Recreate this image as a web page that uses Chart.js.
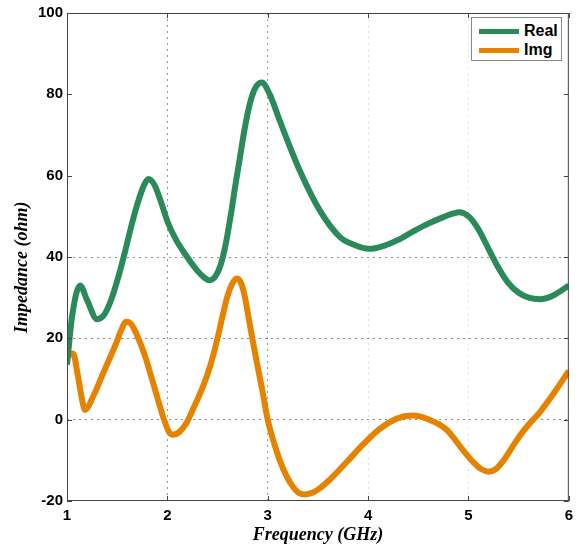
<!DOCTYPE html>
<html>
<head>
<meta charset="utf-8">
<script src="https://cdn.jsdelivr.net/npm/chart.js@4.4.1/dist/chart.umd.min.js"></script>
<style>
  html, body { margin: 0; padding: 0; background: #fff; }
  #wrap { position: relative; width: 579px; height: 548px; }
  #legend {
    position: absolute; left: 471px; top: 17px; width: 91px; height: 44px;
    border: 1px solid #888; background: #fff; box-sizing: border-box;
    font: bold 16px "Liberation Sans", Arial, sans-serif; color: #000;
  }
  .row { position: absolute; left: 0; height: 18px; display: flex; align-items: center; }
  .swatch { display: inline-block; width: 40px; height: 5px; margin-left: 7px; margin-right: 5px; }
</style>
</head>
<body>
<div id="wrap">
  <canvas id="chartCanvas" width="579" height="548"></canvas>
  <div id="legend"></div>
</div>
<script>
// Frecuencias (GHz) y valores
const freqReal = [1.00, 1.05, 1.13, 1.20, 1.30, 1.37, 1.44, 1.51, 1.58, 1.65, 1.72, 1.77, 1.81,
  1.87, 1.93, 2.00, 2.08, 2.18, 2.29, 2.37, 2.42, 2.48, 2.53, 2.58, 2.63, 2.68, 2.72, 2.77,
  2.82, 2.87, 2.94, 3.02, 3.12, 3.32, 3.52, 3.72, 3.86, 4.01, 4.15, 4.30, 4.45, 4.60, 4.75,
  4.85, 4.91, 5.00, 5.10, 5.20, 5.30, 5.40, 5.50, 5.60, 5.71, 5.85, 6.00];
const realOhm = [13.5, 25.3, 33, 29.4, 24.7, 25.8, 29.5, 35, 41.5, 48.5, 54.5, 57.8, 59.2,
  57.8, 54, 48.8, 44.5, 40.6, 36.9, 34.9, 34.3, 35.3, 38, 43, 50, 58, 64, 71.5,
  77.5, 81.3, 82.9, 80, 73.5, 61.2, 51.4, 44.9, 43, 42, 42.7, 44.2, 46.3, 48.2, 49.8,
  50.7, 51, 50, 46.8, 42, 37.3, 33.5, 31.2, 30, 29.6, 30.6, 33];

const freqImg = [1.00, 1.06, 1.11, 1.15, 1.18, 1.26, 1.36, 1.49, 1.54, 1.59, 1.64, 1.69, 1.74,
  1.79, 1.84, 1.90, 1.96, 2.02, 2.06, 2.12, 2.19, 2.26, 2.36, 2.43, 2.49, 2.55, 2.60, 2.65,
  2.69, 2.73, 2.77, 2.81, 2.85, 2.90, 2.94, 3.00, 3.06, 3.12, 3.19, 3.26, 3.31, 3.37, 3.44,
  3.50, 3.62, 3.78, 3.95, 4.11, 4.28, 4.44, 4.61, 4.78, 4.94, 5.05, 5.13, 5.20, 5.27, 5.35,
  5.43, 5.51, 5.60, 5.70, 5.85, 6.00];
const imgOhm = [15.5, 16.3, 10.6, 4.9, 2.4, 5.7, 11.4, 18.8, 22, 24.1, 23.5, 21.2, 18.2,
  14.7, 10.5, 5.5, 0.5, -3.2, -3.7, -3.0, -0.8, 2.8, 8.5, 13.5, 19, 25.5, 30.5, 33.6,
  34.7, 33.8, 30.5, 25, 19.5, 13, 8, 0, -5.5, -10, -14, -16.8, -18, -18.4, -18,
  -17.2, -14.7, -10.6, -6.1, -2.4, 0.2, 1.0, 0, -2.4, -7.3, -10.5, -12.2, -12.8, -12.2, -10,
  -7, -4, -1.2, 1.5, 6.5, 12];

const xTicks = [1, 2, 3, 4, 5, 6];
const yTicks = [-20, 0, 20, 40, 60, 80, 100];
const seriesLabels = ["Real", "Img"];
const xTitle = "Frequency (GHz)";
const yTitle = "Impedance (ohm)";

const colorReal = "#2b8a5a";
const colorImg = "#e58300";

const tickFont = { family: '"Liberation Sans", Arial, sans-serif', size: 15, weight: "bold" };
const titleFont = { family: '"Liberation Serif", "Times New Roman", serif', size: 18, weight: "bold", style: "italic" };

function toPoints(xs, ys) {
  return xs.map((x, i) => ({ x: x, y: ys[i] }));
}

// Marco, marcas hacia dentro y título del eje Y
const framePlugin = {
  id: "frame",
  afterDraw(chart) {
    const { ctx, chartArea: a, scales } = chart;
    ctx.save();
    ctx.strokeStyle = "#444";
    ctx.lineWidth = 1;
    ctx.strokeRect(a.left + 0.5, a.top + 0.5, a.right - a.left - 1, a.bottom - a.top - 1);
    ctx.beginPath();
    for (const v of xTicks) {
      const px = Math.round(scales.x.getPixelForValue(v)) + 0.5;
      ctx.moveTo(px, a.bottom); ctx.lineTo(px, a.bottom - 5);
      ctx.moveTo(px, a.top); ctx.lineTo(px, a.top + 5);
    }
    for (const v of yTicks) {
      const py = Math.round(scales.y.getPixelForValue(v)) + 0.5;
      ctx.moveTo(a.left, py); ctx.lineTo(a.left + 5, py);
      ctx.moveTo(a.right, py); ctx.lineTo(a.right - 5, py);
    }
    ctx.stroke();

    // el título en la referencia está algo más abajo que el centro
    ctx.translate(22, scales.y.getPixelForValue(37.5));
    ctx.rotate(-Math.PI / 2);
    ctx.font = "italic bold 18px 'Liberation Serif', 'Times New Roman', serif";
    ctx.fillStyle = "#000";
    ctx.textAlign = "center";
    ctx.textBaseline = "middle";
    ctx.fillText(yTitle, 0, 0);
    ctx.restore();
  }
};

function buildLegend(chart) {
  const legend = document.getElementById("legend");
  chart.data.datasets.forEach((ds, i) => {
    const row = document.createElement("div");
    row.className = "row";
    row.style.top = (4 + i * 19) + "px";
    const sw = document.createElement("span");
    sw.className = "swatch";
    sw.style.background = ds.borderColor;
    const txt = document.createElement("span");
    txt.textContent = ds.label;
    row.appendChild(sw);
    row.appendChild(txt);
    legend.appendChild(row);
  });
}

const chart = new Chart(document.getElementById("chartCanvas"), {
  type: "line",
  data: {
    datasets: [{
      label: seriesLabels[0],
      data: toPoints(freqReal, realOhm),
      borderColor: colorReal,
      borderWidth: 6,
      pointRadius: 0,
      cubicInterpolationMode: "monotone",
      fill: false
    }, {
      label: seriesLabels[1],
      data: toPoints(freqImg, imgOhm),
      borderColor: colorImg,
      borderWidth: 6,
      pointRadius: 0,
      cubicInterpolationMode: "monotone",
      fill: false
    }]
  },
  options: {
    responsive: false,
    animation: false,
    layout: { padding: { top: 11, right: 10, left: 0, bottom: 0 } },
    plugins: { legend: { display: false }, tooltip: { enabled: false } },
    scales: {
      x: {
        type: "linear",
        min: 1, max: 6,
        afterBuildTicks: (s) => { s.ticks = xTicks.map(v => ({ value: v })); },
        afterFit: (s) => { s.height = 47; },
        ticks: { font: tickFont, color: "#000", padding: 6 },
        grid: {
          drawTicks: false,
          color: (c) => (c.tick && (c.tick.value === 2 || c.tick.value === 3)) ? "#999" : "#e2e2e2"
        },
        border: { display: false, dash: [2, 4] },
        title: { display: true, text: xTitle, font: titleFont, color: "#000", padding: 2 }
      },
      y: {
        min: -20, max: 100,
        afterBuildTicks: (s) => { s.ticks = yTicks.map(v => ({ value: v })); },
        afterFit: (s) => { s.width = 67; },
        ticks: { font: tickFont, color: "#000", padding: 4 },
        grid: {
          drawTicks: false,
          color: (c) => (c.tick && c.tick.value >= 0 && c.tick.value <= 40) ? "#888" : "rgba(0,0,0,0)"
        },
        border: { display: false, dash: [2, 4] },
        title: { display: false }
      }
    }
  },
  plugins: [framePlugin]
});

buildLegend(chart);
</script>
</body>
</html>
